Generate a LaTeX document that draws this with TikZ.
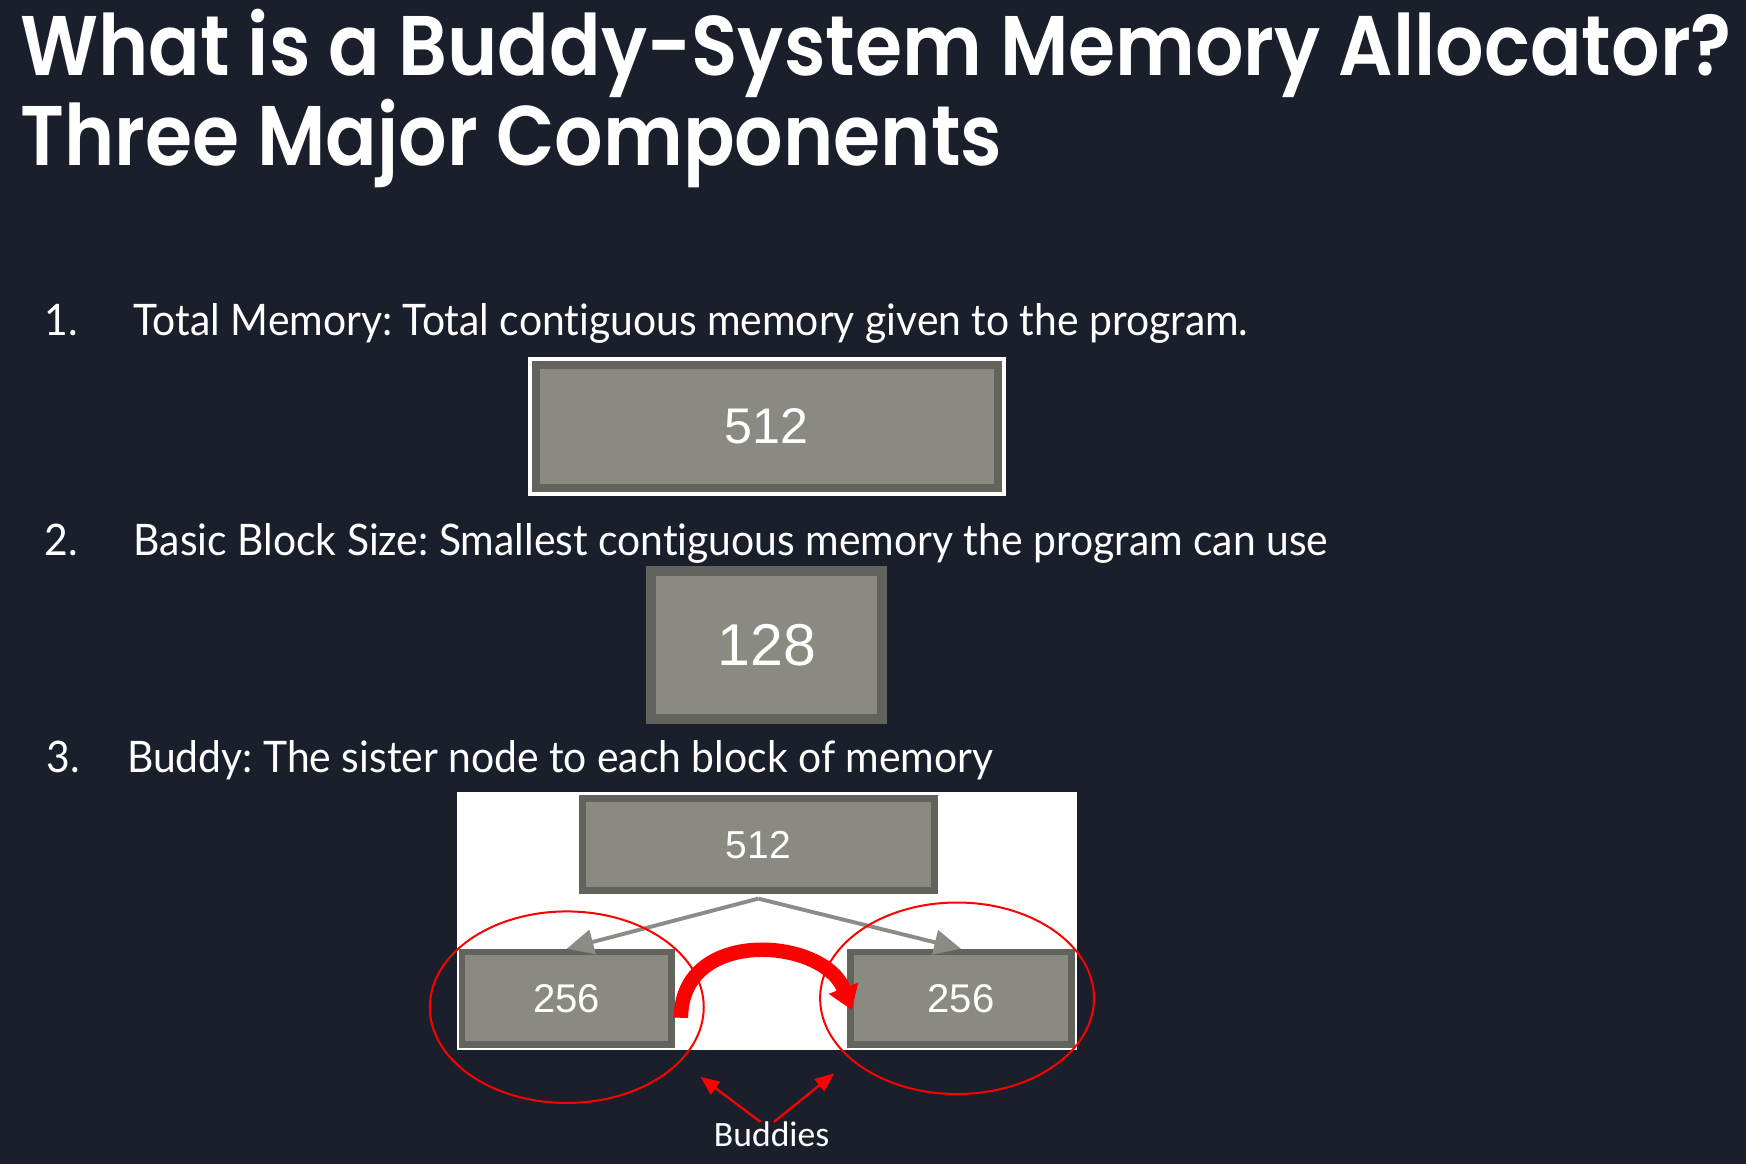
\documentclass[tikz,border=0pt]{standalone}
\usepackage{fontspec}
\usetikzlibrary{arrows.meta}
\newfontfamily\headfont{Poppins SemiBold}[FakeStretch=0.9]
\newfontfamily\bodyfont{Lato}[FakeStretch=0.94,Ligatures=NoCommon]
\newfontfamily\blockfont{Liberation Sans}
\newfontfamily\notefont{Carlito}
\definecolor{slide}{HTML}{1B1F2B}
\definecolor{blockfill}{HTML}{8A8A83}
\definecolor{blockedge}{HTML}{62635C}
\definecolor{linkgray}{HTML}{8C8C86}
\frenchspacing

\begin{document}
\begin{tikzpicture}[x=1pt,y=-1pt,
  heading/.style={anchor=base west,inner sep=0pt,text=white,font=\headfont\fontsize{76}{80}\selectfont},
  item/.style={anchor=base west,inner sep=0pt,text=white,font=\bodyfont\fontsize{39}{44}\selectfont},
  block/.style={draw=blockedge,fill=blockfill,text=white,inner sep=0pt},
  framed/.style={preaction={draw=white,line width=14pt}},
  link/.style={draw=linkgray,line width=3.5pt,-{Triangle[length=24pt,width=22pt]}},
  ring/.style={draw=red,line width=1.8pt},
  swap/.style={draw=red,line width=13pt,-{Triangle[length=21pt,width=27pt]}},
  pointer/.style={draw=red,line width=2pt,-{Triangle[length=17pt,width=14pt]}}]

\useasboundingbox (0,0) rectangle (1568,1045.33);
\fill[slide] (0,0) rectangle (1568,1045.33);

\node[heading] (title) at (18,68) {What is a Buddy-System Memory Allocator?};
\node[heading] (subtitle) at (18,149) {Three Major Components};

\node[item] (num1) at (40,301) {1.};
\node[item] (total text) at (120,301) {Total Memory: Total contiguous memory given to the program.};
\node[item] (num2) at (40,499) {2.};
\node[item] (basic text) at (120,499) {Basic Block Size: Smallest contiguous memory the program can use};
\node[item] (num3) at (42,694) {3.};
\node[item] (buddy text) at (114,694) {Buddy: The sister node to each block of memory};

\node[block,framed,line width=7pt,minimum width=415pt,minimum height=110pt,font=\blockfont\fontsize{45}{50}\selectfont] (total) at (688.5,383) {512};
\node[block,line width=9pt,minimum width=208pt,minimum height=133pt,font=\blockfont\fontsize{53}{58}\selectfont] (basic) at (688.5,579) {128};

\fill[white] (410,711) rectangle (967,943);
\node[block,line width=6pt,minimum width=316pt,minimum height=83pt,font=\blockfont\fontsize{35}{40}\selectfont] (root) at (681,758.5) {512};
\node[block,line width=6pt,minimum width=188pt,minimum height=83pt,font=\blockfont\fontsize{36}{40}\selectfont] (left) at (509,896.5) {256};
\node[block,line width=6pt,minimum width=198pt,minimum height=83pt,font=\blockfont\fontsize{36}{40}\selectfont] (right) at (863,896.5) {256};

\draw[link] ([yshift=-4pt]root.south) -- (left.north);
\draw[link] ([yshift=-4pt]root.south) -- (right.north);

\draw[ring] ([yshift=-8pt]left.center) ellipse [x radius=123, y radius=86];
\draw[ring] ([xshift=-3.5pt]right.center) ellipse [x radius=123, y radius=86];

\coordinate (swapfrom) at (611.5,914);
\coordinate (swapto) at (765,907);
\draw[swap] (swapfrom) .. controls (612,832) and (740,842) .. (swapto);

\node[inner sep=0pt,anchor=base,text=white,font=\notefont\fontsize{32}{36}\selectfont] (buddies) at (693,1030) {Buddies};
\coordinate (ringL) at (629,967);
\coordinate (ringR) at (749,964);
\draw[pointer] ([xshift=-10pt]buddies.north) -- (ringL);
\draw[pointer] ([xshift=2pt]buddies.north) -- (ringR);

\end{tikzpicture}
\end{document}
